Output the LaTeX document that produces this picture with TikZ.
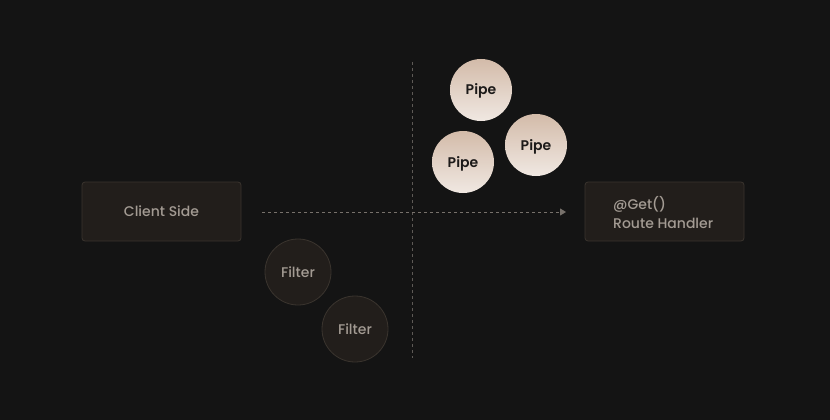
\documentclass[tikz,border=0pt]{standalone}
\usepackage{fontspec}
\setmainfont{Poppins Medium}[BoldFont=Poppins SemiBold]
\usetikzlibrary{arrows.meta}
\definecolor{bg}{HTML}{141414}
\definecolor{boxfill}{HTML}{221E1B}
\definecolor{boxline}{HTML}{3A342E}
\definecolor{boxtext}{HTML}{A39B93}
\definecolor{guide}{HTML}{5E5A56}
\definecolor{arrowc}{HTML}{77716B}
\definecolor{pipetop}{HTML}{D3BBA9}
\definecolor{pipebot}{HTML}{F0E8E2}
\definecolor{pipetext}{HTML}{1C1A19}
\tikzset{
  sidebox/.style={draw=boxline, fill=boxfill, rounded corners=3pt, line width=0.8pt,
    minimum width=159pt, minimum height=59pt, inner sep=0pt, text=boxtext,
    font=\fontsize{14}{19}\selectfont},
  boxlabel/.style={inner sep=0pt, text=boxtext, align=left, font=\fontsize{14}{19}\selectfont},
  pipe/.style={circle, minimum size=62pt, inner sep=0pt, top color=pipetop, bottom color=pipebot,
    draw=none, text=pipetext, text height=10pt, text depth=0pt,
    font=\fontsize{14}{16}\selectfont\bfseries},
  filter/.style={circle, minimum size=66pt, inner sep=0pt, fill=boxfill, draw=boxline,
    line width=0.8pt, text=boxtext, text height=10pt, text depth=0pt,
    font=\fontsize{14}{16}\selectfont},
  guideline/.style={draw=guide, dash pattern=on 3pt off 3pt, line width=1pt},
  flow/.style={draw=arrowc, dash pattern=on 3pt off 3pt, line width=0.9pt,
    -{Triangle[length=6pt,width=7pt]}}
}
\begin{document}
\begin{tikzpicture}[x=1pt,y=-1pt]
\fill[bg] (0,0) rectangle (830,420);
\useasboundingbox (0,0) rectangle (830,420);
\coordinate (vtop) at (412,62);
\coordinate (vbot) at (412,358);
\draw[guideline] (vtop) -- (vbot);
\node[sidebox, text height=10pt, text depth=0pt] (client) at (161.5,211.5) {Client Side};
\node[sidebox] (route) at (664.5,211.5) {};
\node[boxlabel, anchor=west] (routelabel) at (613,212.5) {@Get()\\Route Handler};
\coordinate (astart) at (262,212);
\coordinate (aend) at (566,212);
\draw[flow] (astart) -- (aend);
\node[pipe] (p1) at (481,90) {Pipe};
\node[pipe] (p2) at (536,145) {Pipe};
\node[pipe] (p3) at (463,162) {Pipe};
\node[filter] (f1) at (298,272) {Filter};
\node[filter] (f2) at (355,329) {Filter};
\end{tikzpicture}
\end{document}
